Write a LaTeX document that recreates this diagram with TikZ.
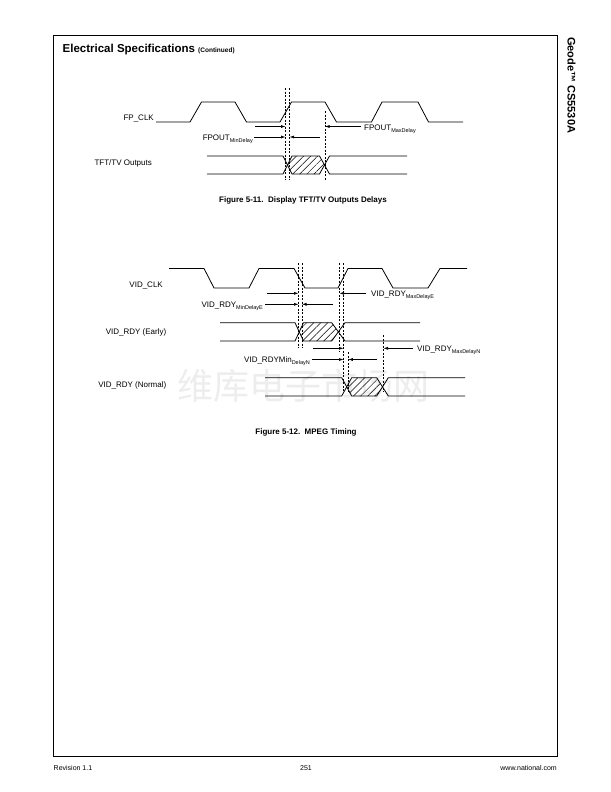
\documentclass[tikz,border=0pt]{standalone}
\usepackage{fontspec}
\setmainfont{Liberation Sans}
\newfontfamily\cjkfont{Noto Sans CJK SC}
\usetikzlibrary{arrows.meta,patterns.meta}

\tikzset{
  wave/.style={line width=0.8bp},
  guide/.style={line width=0.6bp, dash pattern=on 2bp off 1.5bp},
  delay/.style={line width=0.6bp, -{Latex[length=4.5bp,width=3bp]}},
  hatch/.style={pattern={Lines[angle=45,distance=5bp,line width=0.5bp]}},
  sig/.style={font=\fontsize{8bp}{9bp}\selectfont},
  figcap/.style={font=\bfseries\fontsize{8bp}{9bp}\selectfont},
  foot/.style={font=\fontsize{7bp}{8bp}\selectfont},
}
\newcommand\lowtext[1]{\raisebox{-2.2bp}{\fontsize{5.5bp}{6bp}\selectfont #1}}

\begin{document}
\begin{tikzpicture}[x=1bp, y=-1bp, every node/.style={inner sep=0pt}]
    \useasboundingbox (0,0) rectangle (611,792);

    % watermark
    \node[text=black!7, font=\cjkfont\fontsize{36bp}{36bp}\selectfont] (mark) at (303,386) {维库电子市场网};

    % page frame, header and footer
    \draw[line width=1bp] (53.5,36) rectangle (557,756);
    \node[anchor=base west, font=\bfseries\fontsize{11.5bp}{13bp}\selectfont] (title) at (62.5,53) {Electrical Specifications {\fontsize{6.5bp}{8bp}\selectfont(Continued)}};
    \node[rotate=-90, anchor=base west, font=\bfseries\fontsize{11bp}{13bp}\selectfont] (part) at (567.5,37) {Geode™ CS5530A};
    \node[foot, anchor=west] (rev) at (53.5,768) {Revision 1.1};
    \node[foot] (page) at (306,768) {251};
    \node[foot, anchor=east] (web) at (557,768) {www.national.com};

    % Figure 5-11: FP_CLK
    \node[sig, anchor=east] (fpclk) at (154,118.5) {FP\_CLK};
    \draw[wave] (156,122) -- (190,122) -- (201.5,102) -- (235,102) -- (246.5,122) -- (280,122) -- (291.5,102) -- (325,102) -- (336.5,122) -- (371.5,122) -- (382,102) -- (418,102) -- (428.5,122) -- (463,122);

    % TFT/TV outputs
    \node[sig, anchor=west] (tft) at (94.3,163.3) {TFT/TV Outputs};
    \fill[hatch] (287.5,165) -- (292,156) -- (319.5,156) -- (324.5,165) -- (319.5,174) -- (292,174) -- cycle;
    \draw[wave] (207,156) -- (283,156) -- (292,174) -- (319.5,174) -- (329.5,156) -- (407,156);
    \draw[wave] (207,174) -- (283,174) -- (292,156) -- (319.5,156) -- (329.5,174) -- (407,174);

    % timing guides
    \draw[guide] (285.5,88) -- (285.5,180);
    \draw[guide] (289.5,88) -- (289.5,180);
    \draw[guide] (325,111) -- (325,180);

    % delays
    \node[sig, anchor=base west] (fpmax) at (364,130) {FPOUT\lowtext{MaxDelay}};
    \node[sig, anchor=base east] (fpmin) at (253,140) {FPOUT\lowtext{MinDelay}};
    \coordinate (a1s) at (255,126.5);  \coordinate (a1e) at (285.5,126.5);
    \coordinate (a2s) at (361,126.5);  \coordinate (a2e) at (325,126.5);
    \coordinate (a3s) at (254,137);    \coordinate (a3e) at (285.5,137);
    \coordinate (a4s) at (320,137);    \coordinate (a4e) at (289.5,137);
    \draw[delay] (a1s) -- (a1e);
    \draw[delay] (a2s) -- (a2e);
    \draw[delay] (a3s) -- (a3e);
    \draw[delay] (a4s) -- (a4e);

    \node[figcap] (cap1) at (303,200) {Figure 5-11.\ \ Display TFT/TV Outputs Delays};

    % Figure 5-12: VID_CLK
    \node[sig, anchor=east] (vclk) at (163,285) {VID\_CLK};
    \draw[wave] (169,268.5) -- (204,268.5) -- (214,288) -- (249,288) -- (259,268.5) -- (294,268.5) -- (305,288) -- (338,288) -- (348,268.5) -- (382,268.5) -- (393,288) -- (428,288) -- (440,268.5) -- (467,268.5);

    % VID_RDY (Early)
    \node[sig, anchor=east] (early) at (166.5,332.3) {VID\_RDY (Early)};
    \fill[hatch] (299,332) -- (303.5,322.7) -- (331.7,322.7) -- (338.3,332) -- (331.7,341) -- (303.5,341) -- cycle;
    \draw[wave] (220,322.7) -- (295,322.7) -- (303.5,341) -- (331.7,341) -- (345,322.7) -- (420,322.7);
    \draw[wave] (220,341) -- (295,341) -- (303.5,322.7) -- (331.7,322.7) -- (345,341) -- (420,341);

    % VID_RDY (Normal)
    \node[sig, anchor=east] (normal) at (166.5,385) {VID\_RDY (Normal)};
    \fill[hatch] (346.7,386.8) -- (351.7,377.7) -- (376.7,377.7) -- (382.5,386.8) -- (376.7,396) -- (351.7,396) -- cycle;
    \draw[wave] (265,377.7) -- (341.7,377.7) -- (351.7,396) -- (376.7,396) -- (388.3,377.7) -- (465,377.7);
    \draw[wave] (265,396) -- (341.7,396) -- (351.7,377.7) -- (376.7,377.7) -- (388.3,396) -- (465,396);

    % timing guides
    \draw[guide] (298.5,263) -- (298.5,348);
    \draw[guide] (302,263) -- (302,348);
    \draw[guide] (339.5,263) -- (339.5,352);
    \draw[guide] (343.5,263) -- (343.5,392);
    \draw[guide] (348.3,352) -- (348.3,392);
    \draw[guide] (383.5,335) -- (383.5,392);

    % delays
    \node[sig, anchor=base west] (vmaxe) at (371,296.3) {VID\_RDY\lowtext{MaxDelayE}};
    \node[sig, anchor=base east] (vmine) at (263,307.3) {VID\_RDY\lowtext{MinDelayE}};
    \node[sig, anchor=base west] (vmaxn) at (417,351.5) {VID\_RDY\lowtext{MaxDelayN}};
    \node[sig, anchor=base east] (vminn) at (310,362.5) {VID\_RDYMin\lowtext{DelayN}};
    \coordinate (b1s) at (267,293.3);  \coordinate (b1e) at (298.5,293.3);
    \coordinate (b2s) at (366,293.3);  \coordinate (b2e) at (339.5,293.3);
    \coordinate (b3s) at (265,304.3);  \coordinate (b3e) at (298.5,304.3);
    \coordinate (b4s) at (333,304.3);  \coordinate (b4e) at (302,304.3);
    \coordinate (b5s) at (313,348.3);  \coordinate (b5e) at (343.5,348.3);
    \coordinate (b6s) at (413,348.3);  \coordinate (b6e) at (383.5,348.3);
    \coordinate (b7s) at (311.5,359.5); \coordinate (b7e) at (343.5,359.5);
    \coordinate (b8s) at (377,359.5);  \coordinate (b8e) at (348.3,359.5);
    \draw[delay] (b1s) -- (b1e);
    \draw[delay] (b2s) -- (b2e);
    \draw[delay] (b3s) -- (b3e);
    \draw[delay] (b4s) -- (b4e);
    \draw[delay] (b5s) -- (b5e);
    \draw[delay] (b6s) -- (b6e);
    \draw[delay] (b7s) -- (b7e);
    \draw[delay] (b8s) -- (b8e);

    \node[figcap] (cap2) at (306,432) {Figure 5-12.\ \ MPEG Timing};
\end{tikzpicture}
\end{document}
